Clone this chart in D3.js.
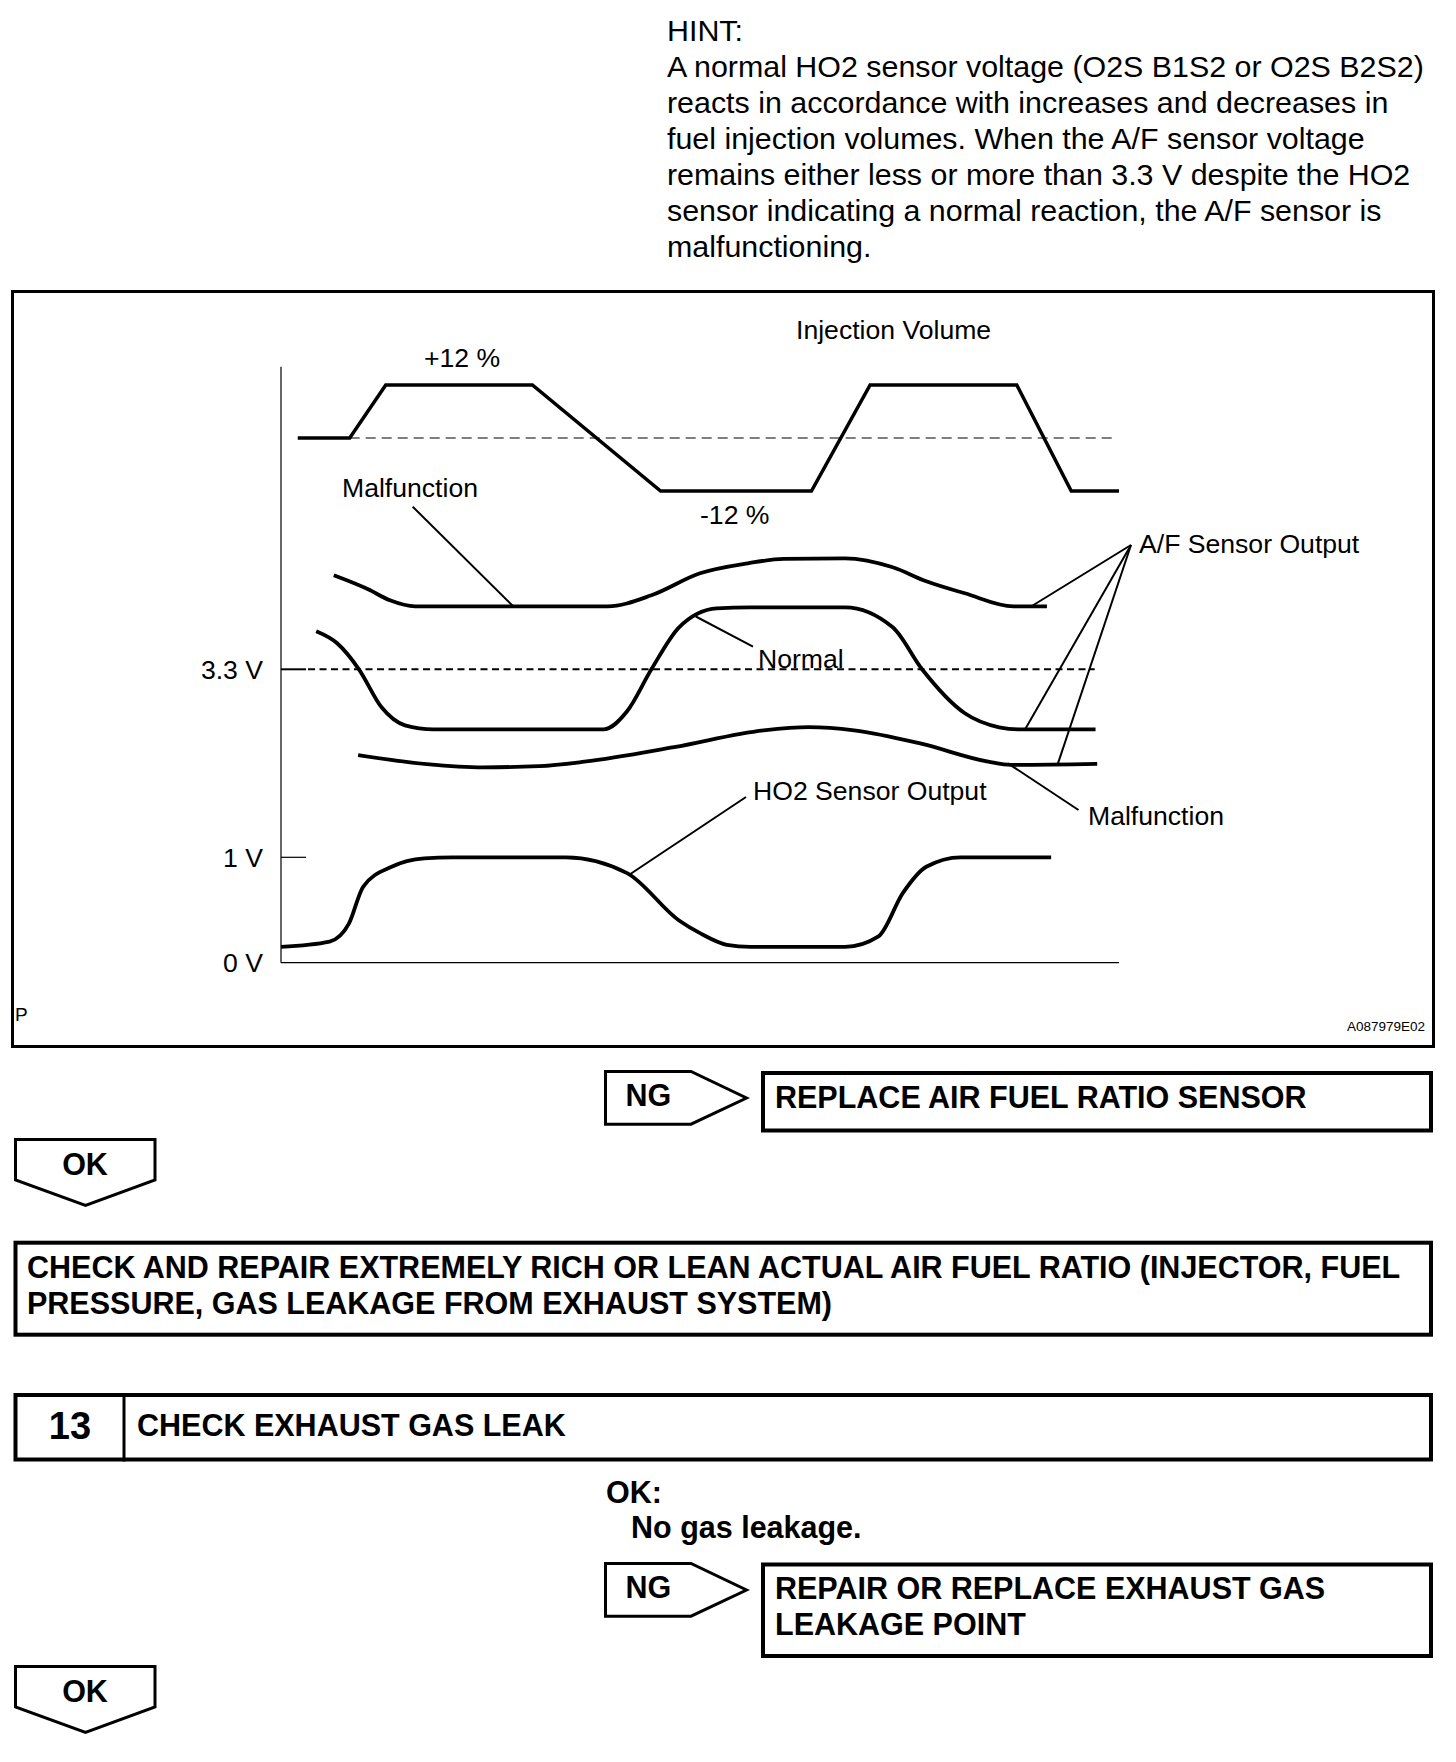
<!DOCTYPE html>
<html>
<head>
<meta charset="utf-8">
<style>
  body { margin: 0; background: #fff; }
  svg text { font-family: "Liberation Sans", Arial, Helvetica, sans-serif; fill: #000; }
  .hint { font-size: 30.4px; }
  .lbl { font-size: 26.6px; }
  .bold { font-size: 30.5px; font-weight: bold; }
</style>
</head>
<body>
<svg id="page" width="1456" height="1762"></svg>
<script src="https://d3js.org/d3.v7.min.js"></script>
<script>

// ---- text of the page ----
var hintLines = [
  "HINT:",
  "A normal HO2 sensor voltage (O2S B1S2 or O2S B2S2)",
  "reacts in accordance with increases and decreases in",
  "fuel injection volumes. When the A/F sensor voltage",
  "remains either less or more than 3.3 V despite the HO2",
  "sensor indicating a normal reaction, the A/F sensor is",
  "malfunctioning."
];
var voltLabels = ["3.3 V", "1 V", "0 V"];
var replaceLines = ["REPLACE AIR FUEL RATIO SENSOR"];
var checkRepairLines = [
  "CHECK AND REPAIR EXTREMELY RICH OR LEAN ACTUAL AIR FUEL RATIO (INJECTOR, FUEL",
  "PRESSURE, GAS LEAKAGE FROM EXHAUST SYSTEM)"
];
var stepNo = "13";
var stepTitle = "CHECK EXHAUST GAS LEAK";
var okCondition = ["OK:", "No gas leakage."];
var repairLines = ["REPAIR OR REPLACE EXHAUST GAS", "LEAKAGE POINT"];

// ---- chart data: time 0..100 (arbitrary), injection in %, sensors in volts ----
var injectionVolume = [[2, 0], [8.2, 0], [12.5, 12], [30, 12], [45.3, -12], [63.3, -12],
                       [70.3, 12], [87.8, 12], [94.3, -12], [100, -12]];

var afNormal = [[4.2, 3.49], [6.7, 3.43], [9.3, 3.30], [12.0, 3.11], [14.8, 3.02], [18.2, 3.0],
                [38.5, 3.0], [41.3, 3.09], [44.2, 3.30], [47.5, 3.51], [52, 3.605], [56, 3.61],
                [67.3, 3.61], [73, 3.51], [76.5, 3.30], [81.6, 3.08], [85.7, 3.01], [88, 3.0],
                [97.2, 3.0]];

var afMalfunctionHigh = [[6.3, 3.77], [10.4, 3.70], [13, 3.645], [16, 3.615], [39, 3.615],
                         [44.2, 3.67], [50, 3.78], [55.7, 3.83], [60, 3.852], [67.3, 3.855],
                         [73, 3.81], [77, 3.74], [81.6, 3.68], [87.4, 3.615], [91.4, 3.615]];

var afMalfunctionLow = [[9.2, 2.871], [17.4, 2.826], [24.1, 2.81], [30.8, 2.816], [36.2, 2.838],
                        [46.9, 2.911], [57.6, 2.995], [63, 3.011], [68.4, 2.995], [76.4, 2.928],
                        [84.4, 2.838], [87.1, 2.822], [97.4, 2.827]];

var ho2Output = [[0, 0.15], [5.8, 0.20], [8.1, 0.37], [9.8, 0.72], [13.2, 0.91], [17.1, 0.99],
                 [20.5, 1.0], [34, 1.0], [41.3, 0.85], [47.5, 0.40], [50, 0.28], [53.2, 0.17],
                 [56, 0.15], [67.3, 0.15], [71.3, 0.25], [74.2, 0.66], [77, 0.91], [81.1, 1.0],
                 [91.9, 1.0]];

// curve points where the label leaders touch
var afOutputAnchors = [[89.7, 3.619], [88.8, 3.0], [92.7, 2.827]];

var svg = d3.select("#page");
svg.append("rect").attr("width", 1456).attr("height", 1762).attr("fill", "#fff");

// hint paragraph
svg.append("g").selectAll("text")
    .data(hintLines)
  .join("text")
    .attr("class", "hint")
    .attr("x", 667)
    .attr("y", function(d, i) { return 40.7 + i * 36; })
    .text(function(d) { return d; });

// figure frame
svg.append("rect")
    .attr("x", 12.5).attr("y", 291.5).attr("width", 1421).attr("height", 755)
    .attr("fill", "none").attr("stroke", "#000").attr("stroke-width", 3);

var x = d3.scaleLinear().domain([0, 100]).range([281, 1119]);
var yInj = d3.scaleLinear().domain([-12, 12]).range([491, 385]);
var yAF = d3.scaleLinear().domain([3.0, 3.6]).range([729.3, 609.3]);
var yHO2 = d3.scaleLinear().domain([0, 1]).range([962.7, 857.3]);

var g = svg.append("g");

// axes
g.append("line").attr("x1", x(0)).attr("x2", x(0)).attr("y1", 366.7).attr("y2", yHO2(0))
    .attr("stroke", "#000").attr("stroke-width", 1.2);
g.append("line").attr("x1", x(0)).attr("x2", x(100)).attr("y1", yHO2(0)).attr("y2", yHO2(0))
    .attr("stroke", "#000").attr("stroke-width", 1.2);
g.append("line").attr("x1", x(0)).attr("x2", x(0) + 25).attr("y1", yHO2(1)).attr("y2", yHO2(1))
    .attr("stroke", "#000").attr("stroke-width", 1.2);

// 3.3 V reference
g.append("line").attr("x1", x(0)).attr("x2", x(0) + 25).attr("y1", yAF(3.3)).attr("y2", yAF(3.3))
    .attr("stroke", "#000").attr("stroke-width", 2);
g.append("line").attr("x1", x(0) + 27).attr("x2", x(97.1)).attr("y1", yAF(3.3)).attr("y2", yAF(3.3))
    .attr("stroke", "#000").attr("stroke-width", 2).attr("stroke-dasharray", "7 4.5");

// injection 0 % reference
g.append("line").attr("x1", x(8.2)).attr("x2", x(99.5)).attr("y1", yInj(0)).attr("y2", yInj(0))
    .attr("stroke", "#000").attr("stroke-width", 1).attr("stroke-dasharray", "10 6");

var yPos = [yAF(3.3), yHO2(1), yHO2(0)];
g.selectAll(".vlabel")
    .data(voltLabels)
  .join("text")
    .attr("class", "lbl vlabel")
    .attr("text-anchor", "end")
    .attr("x", 263)
    .attr("y", function(d, i) { return yPos[i]; })
    .attr("dy", "0.36em")
    .text(function(d) { return d; });

var injLine = d3.line()
    .x(function(d) { return x(d[0]); })
    .y(function(d) { return yInj(d[1]); });
var afLine = d3.line().curve(d3.curveMonotoneX)
    .x(function(d) { return x(d[0]); })
    .y(function(d) { return yAF(d[1]); });
var ho2Line = d3.line().curve(d3.curveMonotoneX)
    .x(function(d) { return x(d[0]); })
    .y(function(d) { return yHO2(d[1]); });

g.append("path").datum(injectionVolume).attr("d", injLine)
    .attr("fill", "none").attr("stroke", "#000").attr("stroke-width", 3.5);
[afMalfunctionHigh, afNormal, afMalfunctionLow].forEach(function(s) {
  g.append("path").datum(s).attr("d", afLine)
      .attr("fill", "none").attr("stroke", "#000").attr("stroke-width", 3.8);
});
g.append("path").datum(ho2Output).attr("d", ho2Line)
    .attr("fill", "none").attr("stroke", "#000").attr("stroke-width", 3.8);

function leader(x1, y1, x2, y2) {
  g.append("line").attr("x1", x1).attr("y1", y1).attr("x2", x2).attr("y2", y2)
      .attr("stroke", "#000").attr("stroke-width", 2);
}
function label(txt, lx, ly, anchor) {
  g.append("text").attr("class", "lbl").attr("x", lx).attr("y", ly)
      .attr("text-anchor", anchor || "start").text(txt);
}

label("Injection Volume", 796, 339);
label("+12 %", x(21.6), 367, "middle");
label("-12 %", 700, 524);

label("Malfunction", 342, 497);
leader(412.7, 506.7, x(27.7), yAF(3.615));

label("Normal", 758, 668);
leader(x(49.5), yAF(3.564), 753, 646.7);

label("A/F Sensor Output", 1139, 553);
afOutputAnchors.forEach(function(p) { leader(1131, 545, x(p[0]), yAF(p[1])); });

label("Malfunction", 1088, 825);
leader(x(86.75), yAF(2.83), 1078.5, 810);

label("HO2 Sensor Output", 753, 799.5);
leader(x(41.6), yHO2(0.837), 746, 797);

g.append("text").attr("x", 15).attr("y", 1021).style("font-size", "19px").text("P");
g.append("text").attr("x", 1425).attr("y", 1031).attr("text-anchor", "end")
    .style("font-size", "13.5px").text("A087979E02");

// ---- flow chart blocks ----
var flow = svg.append("g");

function ngArrow(top) {
  flow.append("polygon")
      .attr("points", [[605.5, top + 1.5], [691, top + 1.5], [746.5, top + 28], [691, top + 54.2], [605.5, top + 54.2]].join(" "))
      .attr("fill", "#fff").attr("stroke", "#000").attr("stroke-width", 3);
  flow.append("text").attr("class", "bold").attr("x", 648.4).attr("y", top + 36)
      .attr("text-anchor", "middle").text("NG");
}
function okArrow(top) {
  flow.append("polygon")
      .attr("points", [[15.5, top + 1.5], [155, top + 1.5], [155, top + 42], [85.5, top + 67.5], [15.5, top + 42]].join(" "))
      .attr("fill", "#fff").attr("stroke", "#000").attr("stroke-width", 3);
  flow.append("text").attr("class", "bold").attr("x", 85).attr("y", top + 37)
      .attr("text-anchor", "middle").text("OK");
}
function box(x0, y0, x1, y1) {
  flow.append("rect").attr("x", x0 + 2).attr("y", y0 + 2)
      .attr("width", x1 - x0 - 4).attr("height", y1 - y0 - 4)
      .attr("fill", "#fff").attr("stroke", "#000").attr("stroke-width", 4);
}
function lines(arr, lx, firstBase) {
  arr.forEach(function(t, i) {
    flow.append("text").attr("class", "bold").attr("x", lx).attr("y", firstBase + i * 36).text(t);
  });
}

ngArrow(1070);
box(761, 1071, 1433, 1132.5);
lines(replaceLines, 775, 1108);

okArrow(1138);

box(13.5, 1240.7, 1433, 1336.7);
lines(checkRepairLines, 27, 1278);

box(13.5, 1393, 1433, 1461.5);
flow.append("line").attr("x1", 124).attr("x2", 124).attr("y1", 1393).attr("y2", 1461.5)
    .attr("stroke", "#000").attr("stroke-width", 3);
flow.append("text").attr("class", "bold").style("font-size", "38px")
    .attr("x", 70).attr("y", 1439).attr("text-anchor", "middle").text(stepNo);
lines([stepTitle], 137, 1435.5);

flow.append("text").attr("class", "bold").attr("x", 606).attr("y", 1503).text(okCondition[0]);
flow.append("text").attr("class", "bold").attr("x", 631).attr("y", 1538).text(okCondition[1]);

ngArrow(1562);
box(761, 1562.5, 1433, 1658);
lines(repairLines, 775, 1599);

okArrow(1665);

</script>
</body>
</html>
